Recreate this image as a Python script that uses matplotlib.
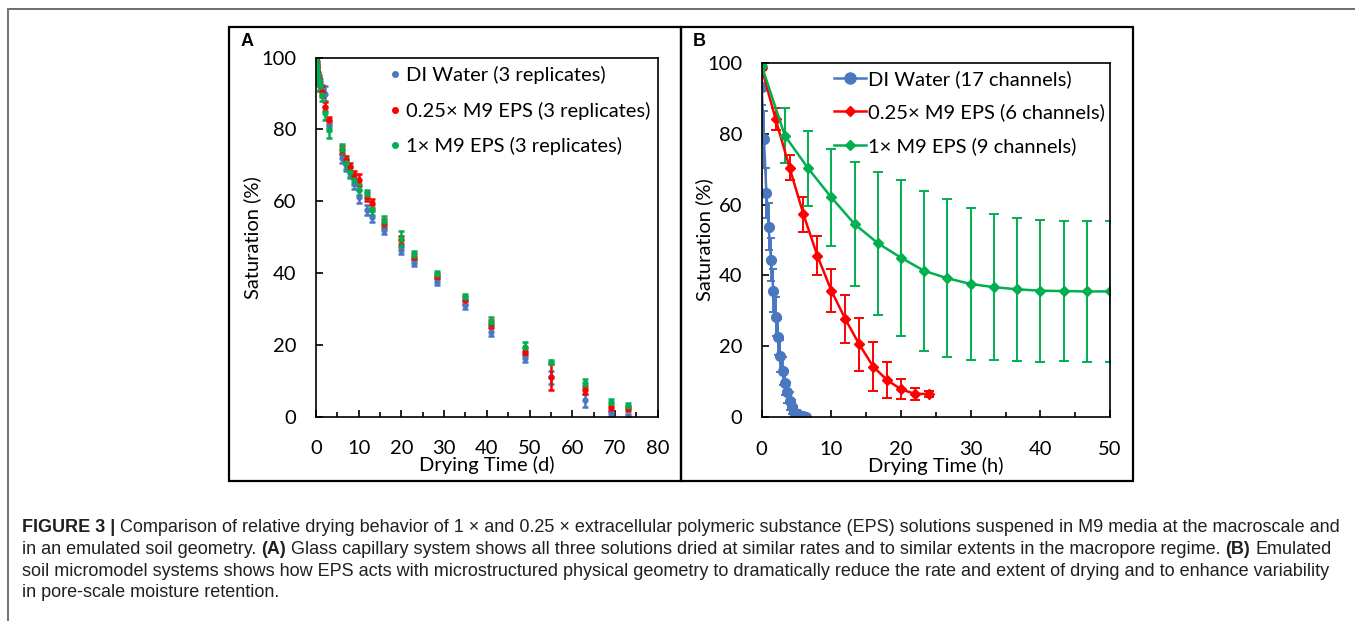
import matplotlib
matplotlib.use("Agg")
import matplotlib.pyplot as plt
from matplotlib.lines import Line2D
from matplotlib.patches import Rectangle
from matplotlib.ticker import MultipleLocator

# ---- panel A: glass capillaries (days) ----
time_a = [0, 0.08, 0.17, 0.25, 0.33, 0.5, 0.67, 1.0, 1.3, 2, 3, 6, 7, 8, 9, 10,
          12, 13, 16, 20, 23, 28.3, 35, 41, 49, 55, 63, 69, 73]
di_a = [99.5, 98.5, 97.5, 96.5, 95.5, 94.5, 93.5, 92.5, 91, 90, 81, 72, 70, 68, 65,
        61.3, 57.6, 55.7, 52, 46.4, 42.9, 37.6, 31.1, 23.7, 16.3, 11, 4.6, 0.9, 0.2]
di_a_err = [0.5, 0.8, 1, 1, 1, 1.2, 1.2, 1.5, 1.5, 2, 1.5, 1.2, 1.5, 1.5, 1.5,
            1.8, 1.5, 1.5, 1.2, 1, 1, 1, 1, 1.2, 1.2, 1.8, 1.8, 0.8, 0.5]
red_a = [100, 99, 98, 97, 96, 95, 94, 92, 90.5, 86.4, 82.6, 74.3, 71.5, 69.6, 67.3,
         66, 61.3, 59.4, 53.9, 49.2, 44.6, 39.2, 32.5, 25.8, 18.1, 11.1, 7.4, 2.3, 2.3]
red_a_err = [0.5, 0.8, 1, 1, 1, 1, 1.2, 1.2, 1.5, 1.2, 1, 1, 1.2, 1.2, 1.2,
             1.6, 1.2, 1.2, 1.2, 1.2, 1, 0.8, 1, 1, 1, 3.7, 1.2, 0.8, 0.8]
green_a = [100, 98.8, 97.8, 96.8, 95.8, 94.8, 93.5, 92, 89.5, 84.5, 80, 74.7, 70.6,
           68.3, 66, 63.2, 61.9, 57.6, 54.6, 49.6, 45, 39.7, 33.4, 26.5, 19.5, 15.3,
           9.3, 4.2, 3.0]
green_a_err = [0.5, 0.8, 1, 1, 1, 1, 1.2, 1.2, 1.5, 1.8, 2.3, 1.2, 1.5, 1.5, 1.5,
               1.5, 1.2, 1.5, 1.2, 2.1, 1.2, 0.8, 0.9, 1.2, 1.2, 0.6, 1.2, 0.8, 0.8]
labels_a = ["DI Water (3 replicates)", "0.25× M9 EPS (3 replicates)",
            "1× M9 EPS (3 replicates)"]

# ---- panel B: micromodel (hours) ----
time_b_di = [0, 0.33, 0.67, 1.0, 1.33, 1.67, 2.0, 2.33, 2.67, 3.0, 3.33, 3.67, 4.0,
             4.33, 4.67, 5.0, 5.33, 5.67, 6.0, 6.33]
di_b = [93.2, 78.4, 63.3, 53.8, 44.5, 35.7, 28.4, 22.7, 17.3, 13.0, 9.8, 7.0, 4.6,
        2.8, 1.6, 1.0, 0.7, 0.5, 0.3, 0.1]
di_b_err = [5, 8, 7, 6.5, 6, 6, 5.5, 5, 4.5, 4, 3.5, 3, 2.5, 2, 1.5, 1, 0.6, 0.4, 0.3, 0.2]

time_b_red = [0, 2, 4, 6, 8, 10, 12, 14, 16, 18, 20, 22, 24]
red_b = [98.4, 84.1, 70.4, 57.2, 45.5, 35.7, 27.7, 20.6, 14.3, 10.5, 7.9, 6.6, 6.6]
red_b_err = [0.5, 3, 3.5, 5, 5.5, 6, 6.7, 7.5, 7, 5, 2.8, 1.8, 0.8]

time_b_green = [0, 3.33, 6.67, 10, 13.33, 16.67, 20, 23.33, 26.67, 30, 33.33, 36.67,
                40, 43.33, 46.67, 50]
green_b = [99.1, 79.4, 70.2, 62.0, 54.5, 49.1, 45.0, 41.3, 39.2, 37.6, 36.7, 36.1,
           35.7, 35.6, 35.5, 35.5]
green_b_err = [0.5, 7.8, 10.6, 13.8, 17.4, 20.2, 22, 22.6, 22.3, 21.4, 20.6, 20.2,
               20, 19.8, 19.8, 19.8]
labels_b = ["DI Water (17 channels)", "0.25× M9 EPS (6 channels)",
            "1× M9 EPS (9 channels)"]

BLUE = "#4a78c0"
RED = "#ff0000"
GREEN = "#00b050"
FS = 14.5

W, H = 1355, 621
fig = plt.figure(figsize=(W / 100, H / 100), dpi=100)
plt.rcParams['font.family'] = ['Lato', 'DejaVu Sans']


def px_rect(x0, y0, x1, y1):
    return [x0 / W, 1 - y1 / H, (x1 - x0) / W, (y1 - y0) / H]


def fx(x):
    return x / W


def fy(y):
    return 1 - y / H


# outer frame (top + left only) and panel boxes
fig.add_artist(Line2D([fx(8), 1], [fy(9), fy(9)], color="#555555", lw=1.2))
fig.add_artist(Line2D([fx(8), fx(8)], [0, fy(9)], color="#777777", lw=1.5))
for x0 in (229, 681):
    fig.add_artist(Rectangle((fx(x0), fy(481)), 452 / W, 454 / H,
                             fill=False, ec="black", lw=1.6))
fig.text(fx(241), fy(46), "A", fontsize=13, fontweight="bold", family="Liberation Sans")
fig.text(fx(693), fy(46), "B", fontsize=13, fontweight="bold", family="Liberation Sans")


def style_axes(ax, xmax, xlabel, ylabelpad):
    ax.set_xlim(0, xmax)
    ax.set_ylim(0, 100)
    ax.xaxis.set_major_locator(MultipleLocator(10))
    ax.xaxis.set_minor_locator(MultipleLocator(5))
    ax.yaxis.set_major_locator(MultipleLocator(20))
    ax.tick_params(which="both", direction="in", labelsize=FS, top=False, right=False)
    ax.tick_params(which="major", length=5, width=1.2)
    ax.tick_params(which="minor", length=3.5, width=1.2)
    ax.tick_params(axis="x", which="major", pad=17)
    ax.tick_params(axis="y", which="major", pad=14)
    for sp in ax.spines.values():
        sp.set_linewidth(1.2)
    ax.set_xlabel(xlabel, fontsize=FS, labelpad=-1)
    ax.set_ylabel("Saturation (%)", fontsize=FS, labelpad=ylabelpad)


# ---- panel A ----
ax_a = fig.add_axes(px_rect(316, 57.7, 657.7, 416.7))
handles_a = []
for y, e, c in [(di_a, di_a_err, BLUE), (red_a, red_a_err, RED),
                (green_a, green_a_err, GREEN)]:
    ax_a.errorbar(time_a, y, yerr=e, fmt="o", ms=3.5, color=c, ecolor=c,
                  elinewidth=1.8, capsize=2.5, capthick=1.8)
    handles_a.append(Line2D([], [], ls="none", marker="o", ms=4, color=c))
style_axes(ax_a, 80, "Drying Time (d)", 0)
ax_a.legend(handles_a, labels_a, loc="upper left",
            bbox_to_anchor=(fx(391), fy(66)), bbox_transform=fig.transFigure,
            frameon=False, fontsize=FS, handlelength=0.4, handletextpad=0.35,
            labelspacing=0.87, borderaxespad=0, borderpad=0)

# ---- panel B ----
ax_b = fig.add_axes(px_rect(761.7, 62.7, 1110, 417.3))
ax_b.errorbar(time_b_di, di_b, yerr=di_b_err, fmt="-o", ms=7, lw=1.8, color=BLUE,
              elinewidth=1.4, capsize=3, capthick=1.4)
ax_b.errorbar(time_b_red, red_b, yerr=red_b_err, fmt="-D", ms=5, lw=1.8, color=RED,
              elinewidth=1.4, capsize=3.5, capthick=1.4)
ax_b.errorbar(time_b_green, green_b, yerr=green_b_err, fmt="-D", ms=5, lw=1.8,
              color=GREEN, elinewidth=1.4, capsize=3.5, capthick=1.4)
style_axes(ax_b, 50, "Drying Time (h)", -4)
handles_b = [Line2D([], [], marker="o", ms=8, lw=1.8, color=BLUE),
             Line2D([], [], marker="D", ms=5, lw=1.8, color=RED),
             Line2D([], [], marker="D", ms=5, lw=1.8, color=GREEN)]
ax_b.legend(handles_b, labels_b, loc="upper left",
            bbox_to_anchor=(fx(834), fy(70)), bbox_transform=fig.transFigure,
            frameon=False, fontsize=FS, handlelength=1.6, handletextpad=0.1,
            labelspacing=0.77, borderaxespad=0, borderpad=0)

# ---- caption ----
renderer = fig.canvas.get_renderer()
CAP = "#231f20"
lines = [
    [("FIGURE 3 |", True),
     ("Comparison of relative drying behavior of 1 × and 0.25 × extracellular polymeric "
      "substance (EPS) solutions suspened in M9 media at the macroscale and", False)],
    [("in an emulated soil geometry.", False), ("(A)", True),
     ("Glass capillary system shows all three solutions dried at similar rates and to "
      "similar extents in the macropore regime.", False), ("(B)", True),
     ("Emulated", False)],
    [("soil micromodel systems shows how EPS acts with microstructured physical geometry "
      "to dramatically reduce the rate and extent of drying and to enhance variability",
      False)],
    [("in pore-scale moisture retention.", False)],
]
baselines = [532.5, 554.3, 576, 597]


def measure(txt, size, bold):
    t = fig.text(0, 0, txt, fontsize=size, fontweight="bold" if bold else "normal",
                 family="Liberation Sans")
    w = t.get_window_extent(renderer).width
    t.remove()
    return w


def line_width(parts, size):
    sp = measure("a a", size, False) - measure("aa", size, False)
    return sum(measure(t, size, b) for t, b in parts) + sp * (len(parts) - 1)


size = 10.0
size = size * (1340 - 22) / line_width(lines[0], size)
space = measure("a a", size, False) - measure("aa", size, False)
for parts, yb in zip(lines, baselines):
    x = 22
    for txt, bold in parts:
        fig.text(fx(x), fy(yb), txt, fontsize=size,
                 fontweight="bold" if bold else "normal", family="Liberation Sans",
                 color=CAP, va="baseline", ha="left")
        x += measure(txt, size, bold) + space

fig.savefig("out.png", dpi=100)
